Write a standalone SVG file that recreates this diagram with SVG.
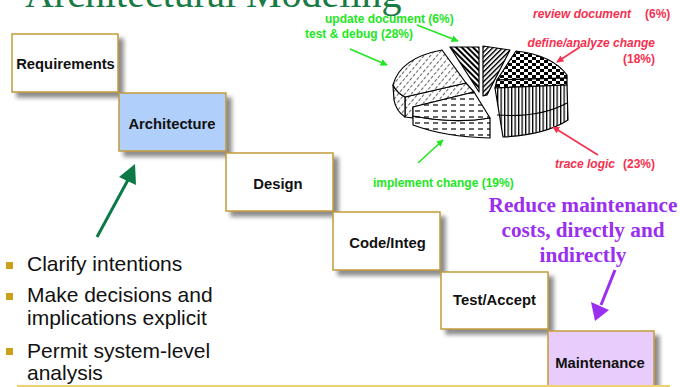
<svg xmlns="http://www.w3.org/2000/svg" width="680" height="387" viewBox="0 0 680 387">
<defs>
<style>
.box{stroke:#c49a3a;stroke-width:1.5}
.bl{font-family:"Liberation Sans",Arial,sans-serif;font-weight:bold;font-size:14.8px;fill:#111;text-anchor:middle}
.gl{font-family:"Liberation Sans",Arial,sans-serif;font-weight:bold;font-size:12px;fill:#22e622}
.rl{font-family:"Liberation Sans",Arial,sans-serif;font-weight:bold;font-size:12px;fill:#f5304f}
.bu{font-family:"Liberation Sans",Arial,sans-serif;font-size:21px;fill:#111}
.pu{font-family:"Liberation Serif","Times New Roman",serif;font-weight:bold;font-size:20px;fill:#9a2ff0;text-anchor:middle}
.sl{stroke:#000;stroke-width:1.2;stroke-linejoin:round}
</style>
<filter id="sh" x="-10%" y="-10%" width="130%" height="140%">
<feDropShadow dx="5" dy="5" stdDeviation="2" flood-color="#666" flood-opacity="0.75"/>
</filter>
<marker id="ag" viewBox="0 0 10 10" refX="9" refY="5" markerWidth="7" markerHeight="7" orient="auto" markerUnits="userSpaceOnUse">
<path d="M0,0 L10,5 L0,10 Z" fill="#22e622"/>
</marker>
<marker id="ar" viewBox="0 0 10 10" refX="9" refY="5" markerWidth="7" markerHeight="7" orient="auto" markerUnits="userSpaceOnUse">
<path d="M0,0 L10,5 L0,10 Z" fill="#f5304f"/>
</marker>
<pattern id="pLight" width="5" height="5" patternUnits="userSpaceOnUse" patternTransform="rotate(40)">
<rect width="5" height="5" fill="#fff"/>
<line x1="0.5" y1="0" x2="0.5" y2="3.2" stroke="#666" stroke-width="1.1"/>
</pattern>
<pattern id="pBlack" width="4" height="4" patternUnits="userSpaceOnUse" patternTransform="rotate(-45)">
<rect width="4" height="4" fill="#fff"/>
<rect width="2" height="4" fill="#000"/>
</pattern>
<pattern id="pFwd" width="3.5" height="3.5" patternUnits="userSpaceOnUse" patternTransform="rotate(45)">
<rect width="3.5" height="3.5" fill="#fff"/>
<rect width="1.4" height="3.5" fill="#000"/>
</pattern>
<pattern id="pCheck" width="8" height="6" patternUnits="userSpaceOnUse">
<rect width="8" height="6" fill="#fff"/>
<rect width="4" height="3" fill="#000"/>
<rect x="4" y="3" width="4" height="3" fill="#000"/>
</pattern>
<pattern id="pVert" width="3.5" height="4" patternUnits="userSpaceOnUse">
<rect width="3.5" height="4" fill="#fff"/>
<rect width="1.3" height="4" fill="#000"/>
</pattern>
<pattern id="pDash" width="9" height="6" patternUnits="userSpaceOnUse">
<rect width="9" height="6" fill="#fff"/>
<line x1="1" y1="3" x2="6" y2="3" stroke="#000" stroke-width="1.2"/>
</pattern>
</defs>
<rect width="680" height="387" fill="#fff"/>
<text x="25" y="7" font-family="'Liberation Serif','Times New Roman',serif" font-size="40" fill="#1a7a46">Architectural Modeling</text>

<g id="pie">
<g id="slice-test-debug">
<path class="sl" fill="url(#pLight)" d="M405,97 L466,83 L474,92 L413,107 L413,118 L405,117 Z"/>
<path class="sl" fill="url(#pLight)" d="M393,85 Q397,93 405,97 L405,117 Q396,111 394,100 Z"/>
<path class="sl" fill="url(#pLight)" d="M442,50 Q400,58 393,85 Q397,93 405,97 L466,83 Z"/>
</g>
<g id="slice-implement">
<path class="sl" fill="url(#pDash)" d="M413,116 Q455,124 490,118 L490,138 Q445,137 413,125 Z"/>
<path class="sl" fill="url(#pDash)" d="M413,107 L474,92 L490,118 Q455,124 413,116 Z"/>
</g>
<g id="slice-update">
<path class="sl" fill="url(#pBlack)" d="M450,47 L479,47 L479,92 Z"/>
</g>
<g id="slice-review">
<path class="sl" fill="url(#pFwd)" d="M483,46 L510,50 L487,95 L483,96 Z"/>
</g>
<g id="slice-define">
<path class="sl" fill="url(#pCheck)" d="M497,80 L516,51 Q552,55 567,75 L567,78 Z"/>
<path class="sl" fill="url(#pCheck)" d="M497,80 L567,78 L567,85 L495,88 Z"/>
</g>
<g id="slice-trace">
<path class="sl" fill="url(#pVert)" d="M495,88 L567,85 L568,120 Q545,135 503,137 Z"/>
<path fill="none" stroke="#000" stroke-width="1.2" d="M497,115 Q540,118 567,103"/>
</g>
</g>

<g id="labels">
<text class="gl" x="325" y="23">update document (6%)</text>
<text class="gl" x="305" y="38">test &amp; debug (28%)</text>
<text class="gl" x="373" y="187">implement change (19%)</text>
<text class="rl" x="533" y="18" font-style="italic">review document</text>
<text class="rl" x="645" y="18">(6%)</text>
<text class="rl" x="655" y="47" font-style="italic" text-anchor="end">define/analyze change</text>
<text class="rl" x="655" y="63" text-anchor="end">(18%)</text>
<text class="rl" x="555" y="168" font-style="italic">trace logic</text>
<text class="rl" x="623" y="168">(23%)</text>
</g>

<g id="connectors">
<line x1="417" y1="25" x2="458" y2="41" stroke="#22e622" stroke-width="1.6" marker-end="url(#ag)"/>
<line x1="350" y1="49" x2="387" y2="65" stroke="#22e622" stroke-width="1.6" marker-end="url(#ag)"/>
<line x1="418" y1="163" x2="443" y2="140" stroke="#22e622" stroke-width="1.6" marker-end="url(#ag)"/>
<line x1="580" y1="47" x2="557" y2="62" stroke="#f5304f" stroke-width="1.6" marker-end="url(#ar)"/>
<line x1="598" y1="155" x2="553" y2="127" stroke="#f5304f" stroke-width="1.6" marker-end="url(#ar)"/>
<line x1="97" y1="237" x2="129" y2="178" stroke="#0c7a47" stroke-width="3"/>
<path d="M135,164 L119,177 L136,185 Z" fill="#0c7a47"/>
<line x1="615" y1="270" x2="601" y2="305" stroke="#9a2ff0" stroke-width="3"/>
<path d="M595,321 L591,302 L609,310 Z" fill="#9a2ff0"/>
</g>

<g id="n-requirements">
<rect class="box" x="12" y="34" width="106" height="58" fill="#fff" filter="url(#sh)"/>
<text class="bl" x="65.5" y="69">Requirements</text>
</g>
<g id="n-architecture">
<rect class="box" x="119" y="93" width="107" height="58" fill="#b0cffa" filter="url(#sh)"/>
<text class="bl" x="172" y="129">Architecture</text>
</g>
<g id="n-design">
<rect class="box" x="226" y="153" width="107" height="58" fill="#fff" filter="url(#sh)"/>
<text class="bl" x="278" y="189">Design</text>
</g>
<g id="n-code">
<rect class="box" x="333" y="212" width="107" height="58" fill="#fff" filter="url(#sh)"/>
<text class="bl" x="387.5" y="248">Code/Integ</text>
</g>
<g id="n-test">
<rect class="box" x="441" y="272" width="107" height="57" fill="#fff" filter="url(#sh)"/>
<text class="bl" x="494.5" y="305">Test/Accept</text>
</g>
<g id="n-maintenance">
<rect class="box" x="548" y="331" width="106" height="60" fill="#e8ccfb" filter="url(#sh)"/>
<text class="bl" x="600" y="368">Maintenance</text>
</g>

<g id="note">
<text class="pu" x="583" y="212" textLength="189" lengthAdjust="spacingAndGlyphs">Reduce maintenance</text>
<text class="pu" x="583" y="237" textLength="163" lengthAdjust="spacingAndGlyphs">costs, directly and</text>
<text class="pu" x="583" y="262" textLength="87" lengthAdjust="spacingAndGlyphs">indirectly</text>
</g>

<g id="bullets">
<rect x="6" y="262" width="7" height="7" fill="#c9a21a"/>
<text class="bu" x="27" y="271">Clarify intentions</text>
<rect x="6" y="293" width="7" height="7" fill="#c9a21a"/>
<text class="bu" x="27" y="302">Make decisions and</text>
<text class="bu" x="27" y="325">implications explicit</text>
<rect x="6" y="348" width="7" height="7" fill="#c9a21a"/>
<text class="bu" x="27" y="358">Permit system-level</text>
<text class="bu" x="27" y="380">analysis</text>
</g>
<line x1="17" y1="386" x2="670" y2="386" stroke="#f0d070" stroke-width="2"/>
</svg>
